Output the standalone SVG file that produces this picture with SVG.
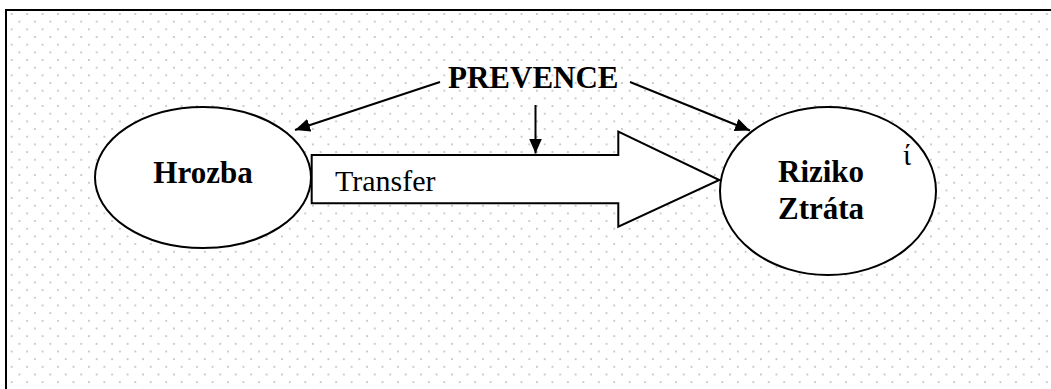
<svg xmlns="http://www.w3.org/2000/svg" width="1051" height="389" viewBox="0 0 1051 389">
  <defs>
    <pattern id="dots" patternUnits="userSpaceOnUse" x="11.7" y="14" width="15.45" height="15.34">
      <circle cx="0" cy="0" r="0.9" fill="#b4b4b4"/>
      <circle cx="15.45" cy="0" r="0.9" fill="#b4b4b4"/>
      <circle cx="0" cy="15.34" r="0.9" fill="#b4b4b4"/>
      <circle cx="15.45" cy="15.34" r="0.9" fill="#b4b4b4"/>
      <circle cx="7.72" cy="7.67" r="0.9" fill="#b4b4b4"/>
    </pattern>
    <marker id="ah" markerUnits="userSpaceOnUse" markerWidth="16" markerHeight="14" refX="15" refY="6.5" orient="auto">
      <path d="M0,0 L15,6.5 L0,13 z" fill="#000"/>
    </marker>
    <style>
      .shape { fill: #fff; stroke: #000; stroke-width: 2; }
      .conn { stroke: #000; stroke-width: 2; fill: none; marker-end: url(#ah); }
      .bold { font-family: "Liberation Serif", "Times New Roman", serif; font-weight: bold; font-size: 31px; fill: #000; }
      .reg { font-family: "Liberation Serif", "Times New Roman", serif; font-size: 30px; fill: #000; }
    </style>
  </defs>
  <rect x="0" y="0" width="1051" height="389" fill="#fff"/>
  <rect x="7" y="11" width="1044" height="378" fill="url(#dots)"/>
  <path d="M6,389 L6,10 L1051,10" fill="none" stroke="#000" stroke-width="2"/>

  <g id="hrozba">
    <ellipse class="shape" cx="203" cy="177.5" rx="108" ry="70.5"/>
    <text class="bold" x="203" y="183" text-anchor="middle">Hrozba</text>
  </g>

  <g id="transfer">
    <polygon class="shape" stroke-width="1.8" points="311.7,155 618.3,155 618.3,131.7 719.3,180 618.3,226.7 618.3,203.3 311.7,203.3"/>
    <text class="reg" x="335" y="191">Transfer</text>
  </g>

  <g id="riziko">
    <ellipse class="shape" cx="828" cy="191" rx="108" ry="84"/>
    <text class="bold" x="778" y="182">Riziko</text>
    <text class="bold" x="778" y="218.5">Ztráta</text>
    <text class="reg" x="903" y="165" font-size="22">ί</text>
  </g>

  <g id="prevence">
    <text class="bold" x="448" y="88">PREVENCE</text>
  </g>

  <g id="connectors">
    <line class="conn" x1="440" y1="82" x2="295" y2="130"/>
    <line class="conn" x1="535.5" y1="105" x2="535.5" y2="153.5"/>
    <line class="conn" x1="630" y1="82" x2="750" y2="130.5"/>
  </g>
</svg>
